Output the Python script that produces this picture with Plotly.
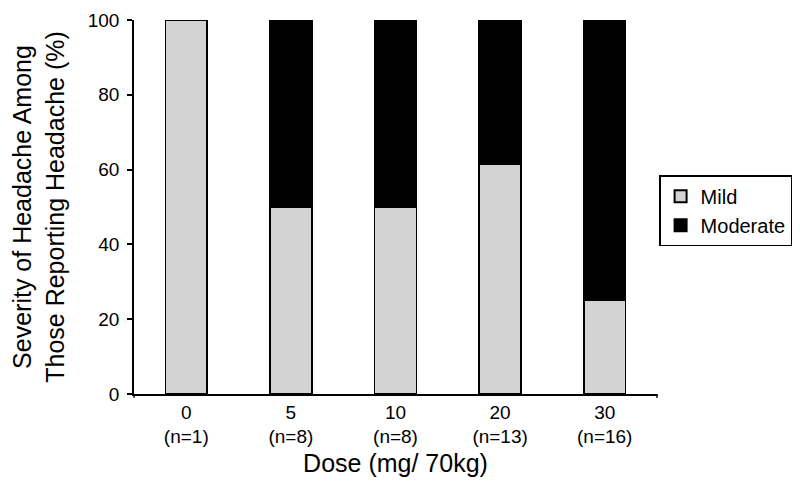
import plotly.graph_objects as go

doses = ["0", "5", "10", "20", "30"]
n_counts = [1, 8, 8, 13, 16]
mild = [100, 50, 50, 61.5, 25]
moderate = [0, 50, 50, 38.5, 75]

xlabels = [f"{d}<br>(n={n})" for d, n in zip(doses, n_counts)]

font_family = "Liberation Sans, Arial, Helvetica, sans-serif"

fig = go.Figure()
fig.add_trace(go.Bar(x=xlabels, y=mild, name="Mild",
                     marker=dict(color="#d3d3d3", line=dict(color="black", width=1.5)),
                     width=0.4))
fig.add_trace(go.Bar(x=xlabels, y=moderate, name="Moderate",
                     marker=dict(color="black", line=dict(color="black", width=1.5)),
                     width=0.4))

fig.update_layout(
    barmode="stack",
    width=800, height=492,
    margin=dict(l=126, r=151, t=12, b=106, autoexpand=False),
    paper_bgcolor="white", plot_bgcolor="white",
    font=dict(family=font_family, size=19, color="black"),
    showlegend=True,
    legend=dict(x=1.004, y=0.49, xanchor="left", yanchor="middle",
                bordercolor="black", borderwidth=1.5, bgcolor="white",
                font=dict(size=20), traceorder="normal",
                itemsizing="constant", tracegroupgap=0),
    xaxis=dict(type="category", range=[-0.5, 4.5], automargin=False,
               showline=True, linecolor="black", linewidth=1.5,
               ticks="", showgrid=False, zeroline=False,
               tickfont=dict(size=19), ticklabeloverflow="allow",
               title=dict(text="Dose (mg/ 70kg)", font=dict(size=25), standoff=8)),
    yaxis=dict(range=[0, 100], tickvals=[0, 20, 40, 60, 80, 100], automargin=False,
               showline=True, linecolor="black", linewidth=1.5,
               ticks="outside", ticklen=5, tickwidth=1.5, tickcolor="black",
               showgrid=False, zeroline=False,
               tickfont=dict(size=19), ticklabeloverflow="allow",
               ticklabelstandoff=4,
               title=dict(text="Severity of Headache Among<br>Those Reporting Headache (%)",
                          font=dict(size=25), standoff=34)),
)

# small end ticks on the x axis
for xp in [0, 1]:
    fig.add_shape(type="line", xref="paper", yref="paper",
                  x0=xp, x1=xp, y0=0, y1=-0.01,
                  line=dict(color="black", width=1.5))

fig.write_html("out.html")
